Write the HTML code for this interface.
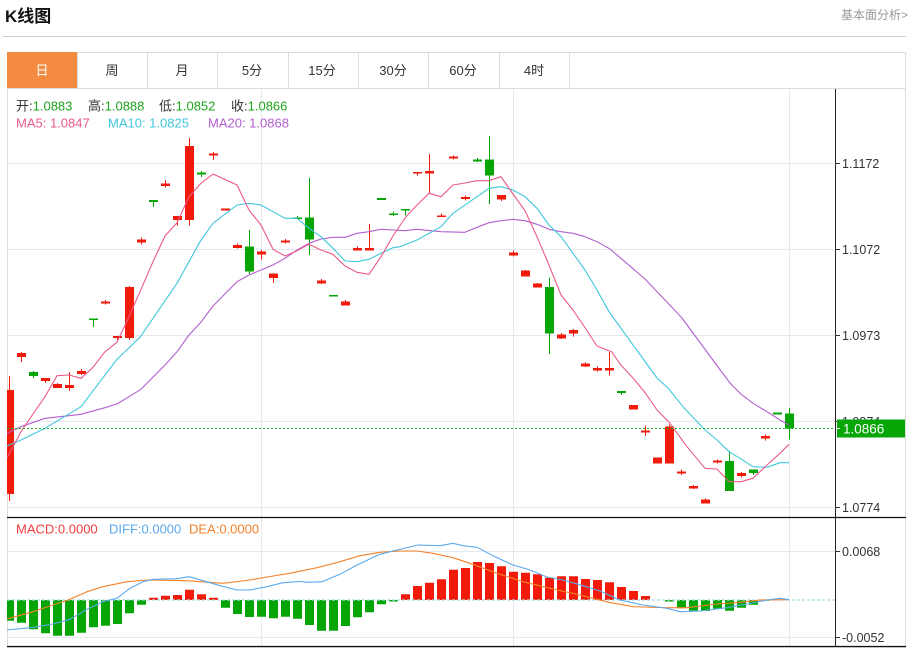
<!DOCTYPE html>
<html><head><meta charset="utf-8"><style>
html,body{margin:0;padding:0;background:#fff;}
svg{display:block;font-family:"Liberation Sans","Noto Sans CJK SC",sans-serif;}
</style></head><body>
<svg width="912" height="650" viewBox="0 0 912 650" xmlns="http://www.w3.org/2000/svg">
<rect width="912" height="650" fill="#fff"/>
<text x="5" y="22" font-size="17" font-weight="bold" fill="#111">K线图</text>
<text x="908" y="19" font-size="12" fill="#999" text-anchor="end">基本面分析&gt;</text>
<path d="M3 36.5H906" stroke="#cfcfcf"/>
<rect x="7.5" y="52.5" width="898" height="595" fill="none" stroke="#dcdcdc"/>
<rect x="7" y="52" width="70" height="36" fill="#f38c40"/>
<path d="M7 88.5H906M77.5 52V88M147.5 52V88M217.5 52V88M288.5 52V88M358.5 52V88M428.5 52V88M499.5 52V88M569.5 52V88" stroke="#dcdcdc"/>
<g font-size="13" fill="#333" text-anchor="middle">
<text x="42" y="75" fill="#fff">日</text><text x="112" y="75">周</text><text x="182" y="75">月</text>
<text x="252" y="75">5分</text><text x="322" y="75">15分</text><text x="393" y="75">30分</text>
<text x="463" y="75">60分</text><text x="534" y="75">4时</text>
</g>
<path d="M7 163.5H835M7 249.5H835M7 335.5H835M7 421.5H835M7 507.5H835M7 551.5H835M7 637.5H835M261.5 89V647M513.5 89V647M789.5 89V647" stroke="#e4e9ef"/>
<g font-size="13">
<text x="16" y="110.5"><tspan fill="#333">开:</tspan><tspan fill="#1ea51e">1.0883</tspan></text>
<text x="88" y="110.5"><tspan fill="#333">高:</tspan><tspan fill="#1ea51e">1.0888</tspan></text>
<text x="159" y="110.5"><tspan fill="#333">低:</tspan><tspan fill="#1ea51e">1.0852</tspan></text>
<text x="231" y="110.5"><tspan fill="#333">收:</tspan><tspan fill="#1ea51e">1.0866</tspan></text>
<text x="16" y="127.5" fill="#eb5a87">MA5: 1.0847</text>
<text x="108" y="127.5" fill="#3fc7dd">MA10: 1.0825</text>
<text x="208" y="127.5" fill="#b35fcf">MA20: 1.0868</text>
</g>
<defs>
<clipPath id="cm"><rect x="7" y="89" width="828" height="428"/></clipPath>
<clipPath id="cd"><rect x="7" y="518" width="828" height="129"/></clipPath>
</defs>
<g clip-path="url(#cm)">
<path stroke="#f21a0a" stroke-width="1" fill="none" d="M9.5 376V501M21.5 352V362M45.5 378V383M57.5 383V388M69.5 372V391M81.5 369V375M105.5 300V304.5M117.5 336V340M129.5 286V340M141.5 237.5V244.5M165.5 180V187.5M177.5 216V225.5M189.5 138V225.5M213.5 152V160M237.5 243.5V248.5M261.5 250V259.5M273.5 273.5V283M285.5 239V243.5M321.5 279V284M345.5 300V305.5M357.5 246.5V250.5M369.5 224V250.5M417.5 172V175.5M429.5 154V193.5M441.5 213.5V216.5M453.5 155.5V159.5M465.5 195.5V200.5M501.5 195V201M513.5 250.5V256.5M525.5 270V276.5M537.5 283V287.5M561.5 333V339M573.5 329V336.5M585.5 362.5V367M597.5 366.5V371.5M609.5 352V375.5M633.5 405V409.5M645.5 425.5V436M669.5 424.5V463.5M681.5 469.5V475M693.5 485V489M705.5 498.5V503.5M717.5 459.5V463.5M741.5 472V477.5M765.5 434.5V440.5"/>
<path fill="#f21a0a" d="M5 390h9v104h-9zM17 353h9v4h-9zM41 378h9v3h-9zM53 384h9v4h-9zM65 385h9v3h-9zM77 371h9v3h-9zM101 301.5h9v2h-9zM113 336h9v2h-9zM125 287h9v51h-9zM137 239.5h9v3h-9zM161 183.5h9v2.5h-9zM173 216h9v4h-9zM185 146h9v74h-9zM209 153.5h9v2h-9zM221 208.5h9v2h-9zM233 245h9v3h-9zM257 251.5h9v3h-9zM269 273.5h9v4.5h-9zM281 240.5h9v2h-9zM317 280.5h9v3h-9zM341 301.5h9v4h-9zM353 248h9v2.5h-9zM365 248h9v2.5h-9zM413 172h9v1.5h-9zM425 171h9v2.5h-9zM437 215.5h9v1.5h-9zM449 156.5h9v2h-9zM461 197h9v2h-9zM497 195h9v4.5h-9zM509 252.5h9v3h-9zM521 270.5h9v6h-9zM533 283.5h9v4h-9zM557 334.5h9v4h-9zM569 330h9v3.5h-9zM581 363.5h9v3h-9zM593 368h9v2.5h-9zM605 368h9v2.5h-9zM629 405h9v4.5h-9zM641 430.5h9v2h-9zM653 457.5h9v6h-9zM665 426.5h9v37h-9zM677 471.5h9v2h-9zM689 486h9v2.5h-9zM701 499.5h9v4h-9zM713 460.5h9v2h-9zM737 473h9v3h-9zM761 436h9v2.5h-9z"/>
<path stroke="#05a505" stroke-width="1" fill="none" d="M33.5 371V378M93.5 318.5V327M153.5 200V207M201.5 171V177M249.5 230V274M297.5 216V219.5M309.5 178V255M393.5 211.5V216M405.5 209V215.5M477.5 158V162M489.5 136V204M549.5 277.5V354M621.5 391V395M729.5 451V491M753.5 469.5V475M789.5 408V439.5"/>
<path fill="#05a505" d="M29 372h9v4h-9zM89 318.5h9v1.5h-9zM149 200h9v2h-9zM197 172.5h9v2h-9zM245 246.5h9v25h-9zM293 217.5h9v1.5h-9zM305 217.5h9v22h-9zM329 295h9v1.5h-9zM377 198h9v2h-9zM389 213.5h9v1.5h-9zM401 209h9v1.5h-9zM473 159.5h9v2h-9zM485 159.5h9v16h-9zM545 287h9v46.5h-9zM617 391h9v2h-9zM725 461h9v30h-9zM749 469.5h9v3.5h-9zM773 412.5h9v2h-9zM785 413.5h9v15h-9z"/>
</g>
<g clip-path="url(#cm)" fill="none" stroke-width="1.1" stroke-linejoin="round">
<polyline stroke="#b35fcf" points="7,433.3 21,426.7 45,418.3 69,415.7 81,414.3 105,407.7 117,404 141,389.3 165,365 177,351.7 189,335 200,323.3 213,306 237,281.7 249,275 273,265 285,258.3 297,250 309,243.3 321,239 333,237.3 345,237.3 357,233.3 369,231.7 381,229.3 393,230 405,230.7 417,229.3 441,231.7 465,232.3 477,227.3 489,222.7 501,220.7 513,219.3 525,220.7 537,224.3 549,229.3 561,231.7 573,233.3 585,236.7 597,241.7 610,249 645,279 682,318 718,367 730,383 740,393.3 753,403.3 767,411.7 780,420 789,425"/>
<polyline stroke="#3fc7dd" points="7,446 21,440 45,428.3 81,406.7 117,359.3 140,337.3 177,283.3 200,241.7 213,223.3 237,205 249,203.3 261,205 273,211.7 285,218.3 297,218.3 309,228.3 321,236.7 333,248.3 345,261 357,261.7 369,259.3 381,253.3 393,247.7 400,246.7 417,240 441,226.7 453,213.3 477,196.7 489,188.3 501,186.7 513,190 525,196.7 537,208.3 549,225 561,236.7 573,253.3 585,270 597,290 609,311.7 620,327 657,378 668,388 683,406.7 705,430 717,440 729,451.7 740,458.3 753,466.7 767,467.3 780,462.7 789,462.7"/>
<polyline stroke="#eb5a87" points="7,458 21,431.7 33,414 45,396.7 57,375.7 69,375 81,378.3 93,367.3 105,351.7 117,342.3 129,316.7 141,289.3 153,261.7 165,236 177,222.7 189,196.7 201,183.3 213,174 237,185 249,210 261,225 273,249.3 285,256 297,250.7 309,244.3 321,250 333,254.3 345,266 357,272.3 369,274.3 381,256.7 393,236 405,218 417,205 429,193.3 441,196.7 453,185 465,183 477,180.7 489,180.7 501,176.7 513,194 525,210.7 537,236.7 549,265 561,295 573,310 585,327.7 597,346 612,352 620,364 633,378 645,392.5 657,410 670,423.3 687,446.7 705,468.3 717,469 729,481.7 741,481.7 753,478.3 767,465 780,453.3 789,444.3"/>
</g>
<path d="M7 428.5H835" stroke="#1fb51f" stroke-dasharray="2,2"/>
<g clip-path="url(#cd)">
<path fill="#05a505" d="M5 600h9v20.7h-9zM17 600h9v22.7h-9zM29 600h9v29.3h-9zM41 600h9v33.3h-9zM53 600h9v35.7h-9zM65 600h9v35.7h-9zM77 600h9v32.7h-9zM89 600h9v27.3h-9zM101 600h9v25.7h-9zM113 600h9v24h-9zM125 600h9v13.3h-9zM137 600h9v4.7h-9zM221 600h9v7.7h-9zM233 600h9v14h-9zM245 600h9v17h-9zM257 600h9v16.7h-9zM269 600h9v18.3h-9zM281 600h9v16.7h-9zM293 600h9v18.7h-9zM305 600h9v25h-9zM317 600h9v30.7h-9zM329 600h9v30.7h-9zM341 600h9v26h-9zM353 600h9v17.3h-9zM365 600h9v12.3h-9zM377 600h9v4.3h-9zM389 600h9v1.5h-9zM665 600h9v1.5h-9zM677 600h9v8.3h-9zM689 600h9v10.7h-9zM701 600h9v11h-9zM713 600h9v8.7h-9zM725 600h9v10.7h-9zM737 600h9v7.7h-9zM749 600h9v4.7h-9zM761 600h9v0.8h-9z"/>
<path fill="#f21a0a" d="M149 597.7h9V600h-9zM161 595.7h9V600h-9zM173 595h9V600h-9zM185 589.7h9V600h-9zM197 594.3h9V600h-9zM209 597.7h9V600h-9zM401 594.3h9V600h-9zM413 586h9V600h-9zM425 582.7h9V600h-9zM437 579.3h9V600h-9zM449 569.7h9V600h-9zM461 568h9V600h-9zM473 562h9V600h-9zM485 563h9V600h-9zM497 566.3h9V600h-9zM509 571.7h9V600h-9zM521 572.7h9V600h-9zM533 574.3h9V600h-9zM545 577.7h9V600h-9zM557 576.3h9V600h-9zM569 576.3h9V600h-9zM581 579h9V600h-9zM593 580h9V600h-9zM605 582.3h9V600h-9zM617 587h9V600h-9zM629 591h9V600h-9zM641 596h9V600h-9z"/>
</g>
<path d="M7 600H835" stroke="#a9dbe6" stroke-width="1.2" stroke-dasharray="3,2"/>
<g clip-path="url(#cd)" fill="none" stroke-width="1.1" stroke-linejoin="round">
<polyline stroke="#f5822a" points="7,619 33,611.7 53,605 70,599.3 87,591.7 103,586.7 127,581.7 147,580 187,580.7 223,583.3 250,580 273,576 290,573.3 317,567.7 340,561.7 360,555.7 380,552.3 400,551 417,551 433,553.3 453,557.7 473,564.3 497,573.3 523,581.7 550,588.3 577,594.3 609,602.3 633,606.7 667,607.7 687,607.7 717,604 740,602.3 760,600 789,599.7"/>
<polyline stroke="#5aaaf0" points="7,630 33,627.3 53,624 70,619.3 87,609.3 103,601.7 117,598.3 130,588.3 143,581.7 153,579.3 177,578.7 189,576.7 210,582.7 220,585.7 237,590 250,590 267,586.7 283,582.7 300,581.5 307,582.3 322,581.7 340,574.3 357,565 380,554.3 397,550 418,545 440,545.7 453,543.3 463,545.7 477,547.3 493,555.7 513,565 530,570 547,577 563,580 583,585.7 600,591 620,600 643,605 667,608.3 680,611.7 700,611 727,607.7 747,604 767,600 780,598.3 789,599.7"/>
</g>
<g font-size="13">
<text x="16" y="533.5" fill="#f03c3c">MACD:0.0000</text>
<text x="109" y="533.5" fill="#5aaaf0">DIFF:0.0000</text>
<text x="189" y="533.5" fill="#f5822a">DEA:0.0000</text>
</g>
<path d="M7 517.5H906M7 646.5H906" stroke="#111" stroke-width="1.2"/>
<path d="M835.5 89V647" stroke="#222"/>
<path d="M835 163.5h5M835 249.5h5M835 335.5h5M835 421.5h5M835 507.5h5M835 551.5h5M835 637.5h5" stroke="#333"/>
<g font-size="12.5" fill="#333">
<text x="842" y="168">1.1172</text><text x="842" y="254">1.1072</text>
<text x="842" y="340">1.0973</text><text x="842" y="426">1.0874</text>
<text x="842" y="512">1.0774</text><text x="842" y="556">0.0068</text>
<text x="842" y="642">-0.0052</text>
</g>
<rect x="837" y="419.5" width="68" height="18" fill="#06a606"/>
<path d="M836 428.5h4" stroke="#fff"/>
<text x="843" y="433.5" font-size="13.5" fill="#fff">1.0866</text>
</svg>
</body></html>
